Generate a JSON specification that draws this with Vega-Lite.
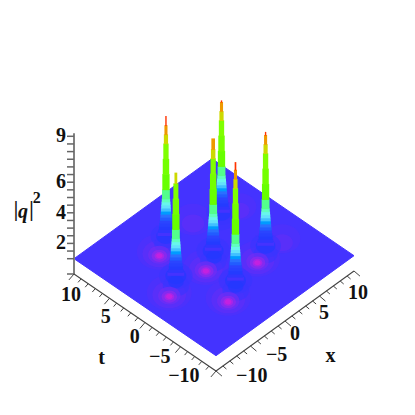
{"$schema":"https://vega.github.io/schema/vega-lite/v6.json","width":415,"height":415,"padding":0,"autosize":{"type":"fit","contains":"padding"},"background":"white","view":{"stroke":null},
"data":{"values":[
{"kind":"floor","o":1,"x":-10,"t":10,"q":1},{"kind":"floor","o":2,"x":10,"t":10,"q":1},{"kind":"floor","o":3,"x":10,"t":-10,"q":1},{"kind":"floor","o":4,"x":-10,"t":-10,"q":1},{"kind":"floor","o":5,"x":-10,"t":10,"q":1},
{"kind":"patch","x":2.4,"t":5.3,"q":0.88,"r":2.8},{"kind":"patch","x":2,"t":4.9,"q":0.8,"r":1.6},
{"kind":"patch","x":6.7,"t":-3.1,"q":0.88,"r":2.6},{"kind":"patch","x":6.3,"t":-3.5,"q":0.8,"r":1.5},
{"kind":"patch","x":7,"t":3.2,"q":0.88,"r":2.4},{"kind":"patch","x":6.6,"t":2.8,"q":0.8,"r":1.4},
{"kind":"patch","x":-3.3,"t":4.5,"q":0.88,"r":3.2},{"kind":"patch","x":-3.5,"t":4.3,"q":0.8,"r":2.4},
{"kind":"patch","x":-1.6,"t":-0.4,"q":0.88,"r":3.2},{"kind":"patch","x":-1.8,"t":-0.6,"q":0.8,"r":2.4},
{"kind":"patch","x":2.9,"t":-3.3,"q":0.88,"r":3.2},{"kind":"patch","x":2.7,"t":-3.5,"q":0.8,"r":2.4},
{"kind":"patch","x":-6.8,"t":-0.3,"q":0.88,"r":3.2},{"kind":"patch","x":-7,"t":-0.5,"q":0.8,"r":2.4},
{"kind":"patch","x":-3.2,"t":-5.1,"q":0.88,"r":3.2},{"kind":"patch","x":-3.4,"t":-5.3,"q":0.8,"r":2.4},
{"kind":"patch","x":5.1,"t":3.9,"q":1.12,"r":2.2},{"kind":"patch","x":4.3,"t":3.1,"q":1.12,"r":1.7},{"kind":"patch","x":5.1,"t":3.9,"q":1.3,"r":1.4},
{"kind":"patch","x":-1.2,"t":5.6,"q":1.12,"r":2.2},{"kind":"patch","x":-2,"t":4.8,"q":1.12,"r":1.7},{"kind":"patch","x":-1.2,"t":5.6,"q":1.3,"r":1.4},
{"kind":"patch","x":4.8,"t":-2.6,"q":1.12,"r":2.2},{"kind":"patch","x":4,"t":-3.4,"q":1.12,"r":1.7},{"kind":"patch","x":4.8,"t":-2.6,"q":1.3,"r":1.4},
{"kind":"patch","x":0.6,"t":0.7,"q":1.12,"r":2.4},{"kind":"patch","x":-0.4,"t":-0.3,"q":1.12,"r":1.9},{"kind":"patch","x":0.6,"t":0.7,"q":1.3,"r":1.5},{"kind":"patch","x":0,"t":0,"q":1.3,"r":1.1},
{"kind":"patch","x":-4.6,"t":0.9,"q":1.12,"r":2.4},{"kind":"patch","x":-5.6,"t":-0.1,"q":1.12,"r":1.9},{"kind":"patch","x":-4.6,"t":0.9,"q":1.3,"r":1.5},{"kind":"patch","x":-5.2,"t":0.3,"q":1.3,"r":1.1},
{"kind":"patch","x":-0.9,"t":-3.9,"q":1.12,"r":2.4},{"kind":"patch","x":-1.9,"t":-4.9,"q":1.12,"r":1.9},{"kind":"patch","x":-0.9,"t":-3.9,"q":1.3,"r":1.5},{"kind":"patch","x":-1.5,"t":-4.5,"q":1.3,"r":1.1},
{"kind":"patch","x":-3.6,"t":4.2,"q":0.7,"r":1.6},{"kind":"patch","x":-3.7,"t":4.1,"q":0.55,"r":1.1},{"kind":"patch","x":-3.7,"t":4.1,"q":0.4,"r":0.7},{"kind":"patch","x":-3.7,"t":4.1,"q":0.25,"r":0.45},
{"kind":"patch","x":-1.9,"t":-0.7,"q":0.7,"r":1.6},{"kind":"patch","x":-2,"t":-0.8,"q":0.55,"r":1.1},{"kind":"patch","x":-2,"t":-0.8,"q":0.4,"r":0.7},{"kind":"patch","x":-2,"t":-0.8,"q":0.25,"r":0.45},
{"kind":"patch","x":2.6,"t":-3.6,"q":0.7,"r":1.6},{"kind":"patch","x":2.5,"t":-3.7,"q":0.55,"r":1.1},{"kind":"patch","x":2.5,"t":-3.7,"q":0.4,"r":0.7},{"kind":"patch","x":2.5,"t":-3.7,"q":0.25,"r":0.45},
{"kind":"patch","x":-7.1,"t":-0.6,"q":0.7,"r":1.6},{"kind":"patch","x":-7.2,"t":-0.7,"q":0.55,"r":1.1},{"kind":"patch","x":-7.2,"t":-0.7,"q":0.4,"r":0.7},{"kind":"patch","x":-7.2,"t":-0.7,"q":0.25,"r":0.45},
{"kind":"patch","x":-3.5,"t":-5.4,"q":0.7,"r":1.6},{"kind":"patch","x":-3.6,"t":-5.5,"q":0.55,"r":1.1},{"kind":"patch","x":-3.6,"t":-5.5,"q":0.4,"r":0.7},{"kind":"patch","x":-3.6,"t":-5.5,"q":0.25,"r":0.45},
{"kind":"peak","x":5.1,"t":3.9,"q":1.0,"q2":1.2,"r":1.2},{"kind":"peak","x":5.1,"t":3.9,"q":1.2,"q2":1.4,"r":1.1},{"kind":"peak","x":5.1,"t":3.9,"q":1.4,"q2":1.6,"r":1.0},{"kind":"peak","x":5.1,"t":3.9,"q":1.6,"q2":1.8,"r":0.95},{"kind":"peak","x":5.1,"t":3.9,"q":1.8,"q2":2.0,"r":0.9},{"kind":"peak","x":5.1,"t":3.9,"q":2.0,"q2":2.2,"r":0.85},{"kind":"peak","x":5.1,"t":3.9,"q":2.2,"q2":2.4,"r":0.8},{"kind":"peak","x":5.1,"t":3.9,"q":2.4,"q2":2.6,"r":0.75},{"kind":"peak","x":5.1,"t":3.9,"q":2.6,"q2":2.8,"r":0.72},{"kind":"peak","x":5.1,"t":3.9,"q":2.8,"q2":3.0,"r":0.68},{"kind":"peak","x":5.1,"t":3.9,"q":3.0,"q2":3.2,"r":0.64},{"kind":"peak","x":5.1,"t":3.9,"q":3.2,"q2":3.4,"r":0.6},{"kind":"peak","x":5.1,"t":3.9,"q":3.4,"q2":4,"r":0.56},{"kind":"peak","x":5.1,"t":3.9,"q":4,"q2":5,"r":0.52},{"kind":"peak","x":5.1,"t":3.9,"q":5,"q2":6,"r":0.46},{"kind":"peak","x":5.1,"t":3.9,"q":6,"q2":7,"r":0.38},{"kind":"peak","x":5.1,"t":3.9,"q":7,"q2":7.6,"r":0.3},{"kind":"peak","x":5.1,"t":3.9,"q":7.6,"q2":8.2,"r":0.22},{"kind":"peak","x":5.1,"t":3.9,"q":8.2,"q2":8.3,"r":0.1},
{"kind":"peak","x":-1.2,"t":5.6,"q":1.0,"q2":1.2,"r":1.2},{"kind":"peak","x":-1.2,"t":5.6,"q":1.2,"q2":1.4,"r":1.1},{"kind":"peak","x":-1.2,"t":5.6,"q":1.4,"q2":1.6,"r":1.0},{"kind":"peak","x":-1.2,"t":5.6,"q":1.6,"q2":1.8,"r":0.95},{"kind":"peak","x":-1.2,"t":5.6,"q":1.8,"q2":2.0,"r":0.9},{"kind":"peak","x":-1.2,"t":5.6,"q":2.0,"q2":2.2,"r":0.85},{"kind":"peak","x":-1.2,"t":5.6,"q":2.2,"q2":2.4,"r":0.8},{"kind":"peak","x":-1.2,"t":5.6,"q":2.4,"q2":2.6,"r":0.75},{"kind":"peak","x":-1.2,"t":5.6,"q":2.6,"q2":2.8,"r":0.72},{"kind":"peak","x":-1.2,"t":5.6,"q":2.8,"q2":3.0,"r":0.68},{"kind":"peak","x":-1.2,"t":5.6,"q":3.0,"q2":3.2,"r":0.64},{"kind":"peak","x":-1.2,"t":5.6,"q":3.2,"q2":3.4,"r":0.6},{"kind":"peak","x":-1.2,"t":5.6,"q":3.4,"q2":4,"r":0.56},{"kind":"peak","x":-1.2,"t":5.6,"q":4,"q2":5,"r":0.52},{"kind":"peak","x":-1.2,"t":5.6,"q":5,"q2":6,"r":0.46},{"kind":"peak","x":-1.2,"t":5.6,"q":6,"q2":7,"r":0.38},{"kind":"peak","x":-1.2,"t":5.6,"q":7,"q2":7.6,"r":0.3},{"kind":"peak","x":-1.2,"t":5.6,"q":7.6,"q2":8.2,"r":0.22},{"kind":"peak","x":-1.2,"t":5.6,"q":8.2,"q2":8.8,"r":0.1},
{"kind":"peak","x":4.8,"t":-2.6,"q":1.0,"q2":1.2,"r":1.2},{"kind":"peak","x":4.8,"t":-2.6,"q":1.2,"q2":1.4,"r":1.1},{"kind":"peak","x":4.8,"t":-2.6,"q":1.4,"q2":1.6,"r":1.0},{"kind":"peak","x":4.8,"t":-2.6,"q":1.6,"q2":1.8,"r":0.95},{"kind":"peak","x":4.8,"t":-2.6,"q":1.8,"q2":2.0,"r":0.9},{"kind":"peak","x":4.8,"t":-2.6,"q":2.0,"q2":2.2,"r":0.85},{"kind":"peak","x":4.8,"t":-2.6,"q":2.2,"q2":2.4,"r":0.8},{"kind":"peak","x":4.8,"t":-2.6,"q":2.4,"q2":2.6,"r":0.75},{"kind":"peak","x":4.8,"t":-2.6,"q":2.6,"q2":2.8,"r":0.72},{"kind":"peak","x":4.8,"t":-2.6,"q":2.8,"q2":3.0,"r":0.68},{"kind":"peak","x":4.8,"t":-2.6,"q":3.0,"q2":3.2,"r":0.64},{"kind":"peak","x":4.8,"t":-2.6,"q":3.2,"q2":3.4,"r":0.6},{"kind":"peak","x":4.8,"t":-2.6,"q":3.4,"q2":4,"r":0.56},{"kind":"peak","x":4.8,"t":-2.6,"q":4,"q2":5,"r":0.52},{"kind":"peak","x":4.8,"t":-2.6,"q":5,"q2":6,"r":0.46},{"kind":"peak","x":4.8,"t":-2.6,"q":6,"q2":7,"r":0.38},{"kind":"peak","x":4.8,"t":-2.6,"q":7,"q2":7.6,"r":0.3},{"kind":"peak","x":4.8,"t":-2.6,"q":7.6,"q2":8.2,"r":0.22},{"kind":"peak","x":4.8,"t":-2.6,"q":8.2,"q2":8.4,"r":0.1},
{"kind":"peak","x":0.6,"t":0.7,"q":1.0,"q2":1.2,"r":1.2},{"kind":"peak","x":0.6,"t":0.7,"q":1.2,"q2":1.4,"r":1.1},{"kind":"peak","x":0.6,"t":0.7,"q":1.4,"q2":1.6,"r":1.0},{"kind":"peak","x":0.6,"t":0.7,"q":1.6,"q2":1.8,"r":0.95},{"kind":"peak","x":0.6,"t":0.7,"q":1.8,"q2":2.0,"r":0.9},{"kind":"peak","x":0.6,"t":0.7,"q":2.0,"q2":2.2,"r":0.85},{"kind":"peak","x":0.6,"t":0.7,"q":2.2,"q2":2.4,"r":0.8},{"kind":"peak","x":0.6,"t":0.7,"q":2.4,"q2":2.6,"r":0.75},{"kind":"peak","x":0.6,"t":0.7,"q":2.6,"q2":2.8,"r":0.72},{"kind":"peak","x":0.6,"t":0.7,"q":2.8,"q2":3.0,"r":0.68},{"kind":"peak","x":0.6,"t":0.7,"q":3.0,"q2":3.2,"r":0.64},{"kind":"peak","x":0.6,"t":0.7,"q":3.2,"q2":3.4,"r":0.6},{"kind":"peak","x":0.6,"t":0.7,"q":3.4,"q2":4,"r":0.56},{"kind":"peak","x":0.6,"t":0.7,"q":4,"q2":5,"r":0.52},{"kind":"peak","x":0.6,"t":0.7,"q":5,"q2":6,"r":0.46},{"kind":"peak","x":0.6,"t":0.7,"q":6,"q2":7,"r":0.38},{"kind":"peak","x":0.6,"t":0.7,"q":7,"q2":7.6,"r":0.32},{"kind":"peak","x":0.6,"t":0.7,"q":7.6,"q2":8.3,"r":0.26},
{"kind":"peak","x":-4.6,"t":0.9,"q":1.0,"q2":1.2,"r":1.2},{"kind":"peak","x":-4.6,"t":0.9,"q":1.2,"q2":1.4,"r":1.1},{"kind":"peak","x":-4.6,"t":0.9,"q":1.4,"q2":1.6,"r":1.0},{"kind":"peak","x":-4.6,"t":0.9,"q":1.6,"q2":1.8,"r":0.95},{"kind":"peak","x":-4.6,"t":0.9,"q":1.8,"q2":2.0,"r":0.9},{"kind":"peak","x":-4.6,"t":0.9,"q":2.0,"q2":2.2,"r":0.85},{"kind":"peak","x":-4.6,"t":0.9,"q":2.2,"q2":2.4,"r":0.8},{"kind":"peak","x":-4.6,"t":0.9,"q":2.4,"q2":2.6,"r":0.75},{"kind":"peak","x":-4.6,"t":0.9,"q":2.6,"q2":2.8,"r":0.72},{"kind":"peak","x":-4.6,"t":0.9,"q":2.8,"q2":3.0,"r":0.68},{"kind":"peak","x":-4.6,"t":0.9,"q":3.0,"q2":3.2,"r":0.64},{"kind":"peak","x":-4.6,"t":0.9,"q":3.2,"q2":3.4,"r":0.6},{"kind":"peak","x":-4.6,"t":0.9,"q":3.4,"q2":4,"r":0.56},{"kind":"peak","x":-4.6,"t":0.9,"q":4,"q2":5,"r":0.52},{"kind":"peak","x":-4.6,"t":0.9,"q":5,"q2":6,"r":0.46},{"kind":"peak","x":-4.6,"t":0.9,"q":6,"q2":7,"r":0.36},{"kind":"peak","x":-4.6,"t":0.9,"q":7,"q2":7.7,"r":0.2},
{"kind":"peak","x":-0.9,"t":-3.9,"q":1.0,"q2":1.2,"r":1.2},{"kind":"peak","x":-0.9,"t":-3.9,"q":1.2,"q2":1.4,"r":1.1},{"kind":"peak","x":-0.9,"t":-3.9,"q":1.4,"q2":1.6,"r":1.0},{"kind":"peak","x":-0.9,"t":-3.9,"q":1.6,"q2":1.8,"r":0.95},{"kind":"peak","x":-0.9,"t":-3.9,"q":1.8,"q2":2.0,"r":0.9},{"kind":"peak","x":-0.9,"t":-3.9,"q":2.0,"q2":2.2,"r":0.85},{"kind":"peak","x":-0.9,"t":-3.9,"q":2.2,"q2":2.4,"r":0.8},{"kind":"peak","x":-0.9,"t":-3.9,"q":2.4,"q2":2.6,"r":0.75},{"kind":"peak","x":-0.9,"t":-3.9,"q":2.6,"q2":2.8,"r":0.72},{"kind":"peak","x":-0.9,"t":-3.9,"q":2.8,"q2":3.0,"r":0.68},{"kind":"peak","x":-0.9,"t":-3.9,"q":3.0,"q2":3.2,"r":0.64},{"kind":"peak","x":-0.9,"t":-3.9,"q":3.2,"q2":3.4,"r":0.6},{"kind":"peak","x":-0.9,"t":-3.9,"q":3.4,"q2":4,"r":0.56},{"kind":"peak","x":-0.9,"t":-3.9,"q":4,"q2":5,"r":0.52},{"kind":"peak","x":-0.9,"t":-3.9,"q":5,"q2":6,"r":0.46},{"kind":"peak","x":-0.9,"t":-3.9,"q":6,"q2":7,"r":0.38},{"kind":"peak","x":-0.9,"t":-3.9,"q":7,"q2":7.6,"r":0.3},{"kind":"peak","x":-0.9,"t":-3.9,"q":7.6,"q2":8.2,"r":0.22},{"kind":"peak","x":-0.9,"t":-3.9,"q":8.2,"q2":8.7,"r":0.12},
{"kind":"zaxis","o":1,"x":-10,"t":10,"q":9.2},{"kind":"zaxis","o":2,"x":-10,"t":10,"q":0},
{"kind":"base","o":1,"x":-10,"t":10,"q":0},{"kind":"base","o":2,"x":-10,"t":-10,"q":0},{"kind":"base","o":3,"x":10,"t":-10,"q":0},
{"kind":"ztick","x":-10,"t":10,"q":0},{"kind":"ztick","x":-10,"t":10,"q":1},{"kind":"ztick","x":-10,"t":10,"q":1.5},{"kind":"ztick","x":-10,"t":10,"q":2},{"kind":"ztick","x":-10,"t":10,"q":2.5},{"kind":"ztick","x":-10,"t":10,"q":3},{"kind":"ztick","x":-10,"t":10,"q":3.5},{"kind":"ztick","x":-10,"t":10,"q":4},{"kind":"ztick","x":-10,"t":10,"q":4.5},{"kind":"ztick","x":-10,"t":10,"q":5},{"kind":"ztick","x":-10,"t":10,"q":5.5},{"kind":"ztick","x":-10,"t":10,"q":6},{"kind":"ztick","x":-10,"t":10,"q":6.5},{"kind":"ztick","x":-10,"t":10,"q":7},{"kind":"ztick","x":-10,"t":10,"q":7.5},{"kind":"ztick","x":-10,"t":10,"q":8},{"kind":"ztick","x":-10,"t":10,"q":8.5},{"kind":"ztick","x":-10,"t":10,"q":9},
{"kind":"ttick","x":-10,"t":10,"q":0},{"kind":"ttick","x":-10,"t":9,"q":0},{"kind":"ttick","x":-10,"t":8,"q":0},{"kind":"ttick","x":-10,"t":7,"q":0},{"kind":"ttick","x":-10,"t":6,"q":0},{"kind":"ttick","x":-10,"t":5,"q":0},{"kind":"ttick","x":-10,"t":4,"q":0},{"kind":"ttick","x":-10,"t":3,"q":0},{"kind":"ttick","x":-10,"t":2,"q":0},{"kind":"ttick","x":-10,"t":1,"q":0},{"kind":"ttick","x":-10,"t":0,"q":0},{"kind":"ttick","x":-10,"t":-1,"q":0},{"kind":"ttick","x":-10,"t":-2,"q":0},{"kind":"ttick","x":-10,"t":-3,"q":0},{"kind":"ttick","x":-10,"t":-4,"q":0},{"kind":"ttick","x":-10,"t":-5,"q":0},{"kind":"ttick","x":-10,"t":-6,"q":0},{"kind":"ttick","x":-10,"t":-7,"q":0},{"kind":"ttick","x":-10,"t":-8,"q":0},{"kind":"ttick","x":-10,"t":-9,"q":0},{"kind":"ttick","x":-10,"t":-10,"q":0},
{"kind":"xtick","x":-10,"t":-10,"q":0},{"kind":"xtick","x":-9,"t":-10,"q":0},{"kind":"xtick","x":-8,"t":-10,"q":0},{"kind":"xtick","x":-7,"t":-10,"q":0},{"kind":"xtick","x":-6,"t":-10,"q":0},{"kind":"xtick","x":-5,"t":-10,"q":0},{"kind":"xtick","x":-4,"t":-10,"q":0},{"kind":"xtick","x":-3,"t":-10,"q":0},{"kind":"xtick","x":-2,"t":-10,"q":0},{"kind":"xtick","x":-1,"t":-10,"q":0},{"kind":"xtick","x":0,"t":-10,"q":0},{"kind":"xtick","x":1,"t":-10,"q":0},{"kind":"xtick","x":2,"t":-10,"q":0},{"kind":"xtick","x":3,"t":-10,"q":0},{"kind":"xtick","x":4,"t":-10,"q":0},{"kind":"xtick","x":5,"t":-10,"q":0},{"kind":"xtick","x":6,"t":-10,"q":0},{"kind":"xtick","x":7,"t":-10,"q":0},{"kind":"xtick","x":8,"t":-10,"q":0},{"kind":"xtick","x":9,"t":-10,"q":0},{"kind":"xtick","x":10,"t":-10,"q":0},
{"kind":"zlabel","label":"9","x":-10,"t":10,"q":9},{"kind":"zlabel","label":"6","x":-10,"t":10,"q":6},{"kind":"zlabel","label":"4","x":-10,"t":10,"q":4},{"kind":"zlabel","label":"2","x":-10,"t":10,"q":2},
{"kind":"label","label":"10","x":-12.4,"t":8.1,"q":0},{"kind":"label","label":"5","x":-12.2,"t":3.4,"q":0},{"kind":"label","label":"0","x":-12.2,"t":-0.7,"q":0},{"kind":"label","label":"−5","x":-12.5,"t":-4.5,"q":0},{"kind":"label","label":"−10","x":-12.8,"t":-8.2,"q":0},{"kind":"label","label":"t","x":-16.7,"t":-0.4,"q":0},
{"kind":"label","label":"10","x":8,"t":-12.5,"q":0},{"kind":"label","label":"5","x":3.6,"t":-12,"q":0},{"kind":"label","label":"0","x":-0.6,"t":-12,"q":0},{"kind":"label","label":"−5","x":-4.1,"t":-12.8,"q":0},{"kind":"label","label":"−10","x":-8,"t":-13.1,"q":0},{"kind":"label","label":"x","x":-0.4,"t":-16.8,"q":0},
{"kind":"label","label":"|","x":-7.5,"t":20.6,"q":0},{"kind":"label","label":"|","x":-6.4,"t":19.5,"q":0},{"kind":"sup","label":"2","x":-4.8,"t":20.3,"q":0},{"kind":"ital","label":"q","x":-7.2,"t":19.9,"q":0}
]},
"transform":[
{"calculate":"216+(datum.x+10)*6.9-(datum.t+10)*7.1","as":"sx"},
{"calculate":"371-(datum.x+10)*5-(datum.t+10)*4.85-15.3*(datum.kind=='patch'?1:datum.q)","as":"sy"}
],
"encoding":{
"x":{"field":"sx","type":"quantitative","axis":null,"scale":{"domain":[0,415],"nice":false,"zero":false}},
"y":{"field":"sy","type":"quantitative","axis":null,"scale":{"domain":[415,0],"nice":false,"zero":false}}
},
"layer":[
{"transform":[{"filter":"datum.kind=='floor'"}],"mark":{"type":"line","fill":"#4433ff","stroke":"#4433ff","strokeWidth":1},"encoding":{"order":{"field":"o","type":"quantitative"}}},
{"transform":[{"filter":"datum.kind=='patch'"}],"mark":{"type":"point","filled":true,"opacity":0.6,"stroke":null,"shape":"M-1,0A1,0.8,0,1,1,1,0A1,0.8,0,1,1,-1,0Z"},
"encoding":{"size":{"field":"r","type":"quantitative","legend":null,"scale":{"type":"pow","exponent":2,"domain":[0,4],"range":[0,3136]}},
"color":{"field":"q","type":"quantitative","legend":null,"scale":{"type":"linear","domain":[0.2,0.45,0.6,0.75,0.88,1,1.3,1.8,2.2,2.6,2.9,3.2,3.6,3.9,6,6.8,7.6,8.2,9],"range":["#e020d8","#b025e4","#8a2aee","#6a2ef5","#5230fa","#4433ff","#2238ff","#2a45ff","#2a70ff","#40c0ff","#80f0f8","#60ffc0","#70ff40","#66ff00","#80ff00","#b8ee00","#ee9900","#ff3300","#ff0000"]}}}},
{"transform":[{"filter":"datum.kind=='peak'"},
{"calculate":"datum.sx-7*datum.r","as":"x1"},{"calculate":"datum.sx+7*datum.r","as":"x2v"},{"calculate":"datum.sy-15.3*(datum.q2-datum.q)-0.7","as":"y2v"}],
"mark":{"type":"rect"},
"encoding":{"x":{"field":"x1","type":"quantitative","axis":null,"scale":{"domain":[0,415],"nice":false,"zero":false}},"x2":{"field":"x2v"},"y2":{"field":"y2v"},
"color":{"field":"q","type":"quantitative","legend":null}}},
{"transform":[{"filter":"datum.kind=='zaxis'"}],"mark":{"type":"line","stroke":"#808080","strokeWidth":2},"encoding":{"order":{"field":"o","type":"quantitative"}}},
{"transform":[{"filter":"datum.kind=='base'"}],"mark":{"type":"line","stroke":"#444444","strokeWidth":1.1},"encoding":{"order":{"field":"o","type":"quantitative"}}},
{"transform":[{"filter":"datum.kind=='ztick'"},{"calculate":"datum.sx-7","as":"ex"}],"mark":{"type":"rule","stroke":"#666666","strokeWidth":1.5},"encoding":{"x2":{"field":"ex"}}},
{"transform":[{"filter":"datum.kind=='ttick'"},{"calculate":"datum.t%5==0?1.7:1","as":"L"},{"calculate":"datum.sx-3*datum.L","as":"ex"},{"calculate":"datum.sy+3.5*datum.L","as":"ey"}],"mark":{"type":"rule","stroke":"#444444","strokeWidth":1},"encoding":{"x2":{"field":"ex"},"y2":{"field":"ey"}}},
{"transform":[{"filter":"datum.kind=='xtick'"},{"calculate":"datum.x%5==0?1.7:1","as":"L"},{"calculate":"datum.sx+3.5*datum.L","as":"ex"},{"calculate":"datum.sy+3*datum.L","as":"ey"}],"mark":{"type":"rule","stroke":"#444444","strokeWidth":1},"encoding":{"x2":{"field":"ex"},"y2":{"field":"ey"}}},
{"transform":[{"filter":"datum.kind=='zlabel'"}],"mark":{"type":"text","font":"Liberation Serif","fontWeight":"bold","fontSize":20,"color":"#111111","dx":-13,"baseline":"middle"},"encoding":{"text":{"field":"label"}}},
{"transform":[{"filter":"datum.kind=='label'"}],"mark":{"type":"text","font":"Liberation Serif","fontWeight":"bold","fontSize":20,"color":"#111111","baseline":"middle"},"encoding":{"text":{"field":"label"}}},
{"transform":[{"filter":"datum.kind=='sup'"}],"mark":{"type":"text","font":"Liberation Serif","fontWeight":"bold","fontSize":16,"color":"#111111","baseline":"middle"},"encoding":{"text":{"field":"label"}}},
{"transform":[{"filter":"datum.kind=='ital'"}],"mark":{"type":"text","font":"Liberation Serif","fontWeight":"bold","fontStyle":"italic","fontSize":20,"color":"#111111","baseline":"middle"},"encoding":{"text":{"field":"label"}}}
]}
